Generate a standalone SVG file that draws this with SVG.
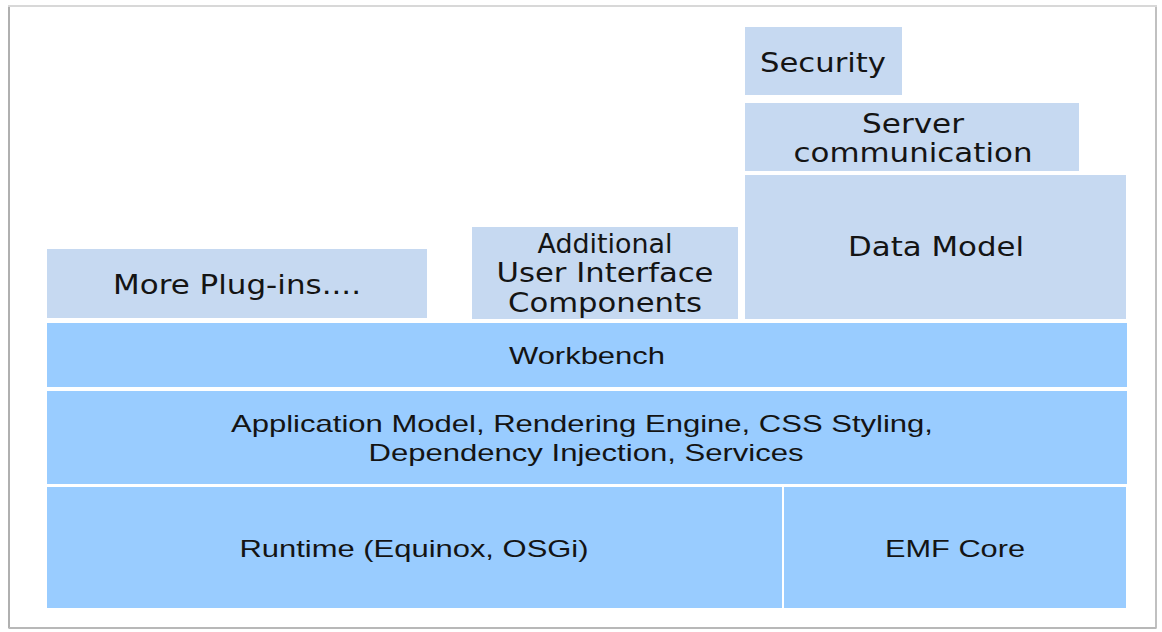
<svg xmlns="http://www.w3.org/2000/svg" width="1162" height="632" viewBox="0 0 1162 632">
<defs>
<style>
.light{fill:#c6d9f1;}
.blue{fill:#99ccff;}
.dv{font-family:"DejaVu Sans",Verdana,sans-serif;font-size:26px;fill:#141414;}
.ls{font-family:"Liberation Sans",Arial,sans-serif;font-size:24px;fill:#141414;}
</style>
</defs>
<rect x="0" y="0" width="1162" height="632" fill="#ffffff"/>
<rect x="9" y="6" width="1147" height="622" fill="#ffffff" stroke="#d8d8d8" stroke-width="2"/>
<line x1="9" y1="7" x2="9" y2="628" stroke="#b0b0b0" stroke-width="2"/>
<line x1="9" y1="628" x2="1156" y2="628" stroke="#b8b8b8" stroke-width="2"/>
<line x1="1156" y1="7" x2="1156" y2="628" stroke="#b8b8b8" stroke-width="1.5"/>
<g id="security">
<rect class="light" x="745" y="27" width="157" height="68"/>
<text class="dv" x="823" y="72" text-anchor="middle" textLength="126" lengthAdjust="spacingAndGlyphs">Security</text>
</g>
<g id="server">
<rect class="light" x="745" y="103" width="334" height="68"/>
<text class="dv" x="913" y="133" text-anchor="middle" textLength="102" lengthAdjust="spacingAndGlyphs">Server</text>
<text class="dv" x="913" y="162" text-anchor="middle" textLength="239" lengthAdjust="spacingAndGlyphs">communication</text>
</g>
<g id="datamodel">
<rect class="light" x="745" y="175" width="381" height="144"/>
<text class="dv" x="936" y="256" text-anchor="middle" textLength="176" lengthAdjust="spacingAndGlyphs">Data Model</text>
</g>
<g id="additional">
<rect class="light" x="472" y="227" width="266" height="92"/>
<text class="dv" x="605" y="253" text-anchor="middle" textLength="135" lengthAdjust="spacingAndGlyphs">Additional</text>
<text class="dv" x="605" y="282" text-anchor="middle" textLength="217" lengthAdjust="spacingAndGlyphs">User Interface</text>
<text class="dv" x="605" y="312" text-anchor="middle" textLength="194" lengthAdjust="spacingAndGlyphs">Components</text>
</g>
<g id="plugins">
<rect class="light" x="47" y="249" width="380" height="69"/>
<text class="dv" x="237" y="294" text-anchor="middle" textLength="248" lengthAdjust="spacingAndGlyphs">More Plug-ins....</text>
</g>
<g id="workbench">
<rect class="blue" x="47" y="323" width="1080" height="64"/>
<text class="ls" x="587" y="364" text-anchor="middle" textLength="156" lengthAdjust="spacingAndGlyphs">Workbench</text>
</g>
<g id="appmodel">
<rect class="blue" x="47" y="391" width="1080" height="93"/>
<text class="ls" x="582" y="432" text-anchor="middle" textLength="702" lengthAdjust="spacingAndGlyphs">Application Model, Rendering Engine, CSS Styling,</text>
<text class="ls" x="586" y="461" text-anchor="middle" textLength="435" lengthAdjust="spacingAndGlyphs">Dependency Injection, Services</text>
</g>
<g id="runtime">
<rect class="blue" x="47" y="487" width="735" height="121"/>
<text class="ls" x="414" y="557" text-anchor="middle" textLength="349" lengthAdjust="spacingAndGlyphs">Runtime (Equinox, OSGi)</text>
</g>
<g id="emf">
<rect class="blue" x="784" y="487" width="342" height="121"/>
<text class="ls" x="955" y="557" text-anchor="middle" textLength="140" lengthAdjust="spacingAndGlyphs">EMF Core</text>
</g>
<g id="connectors"></g>
</svg>
